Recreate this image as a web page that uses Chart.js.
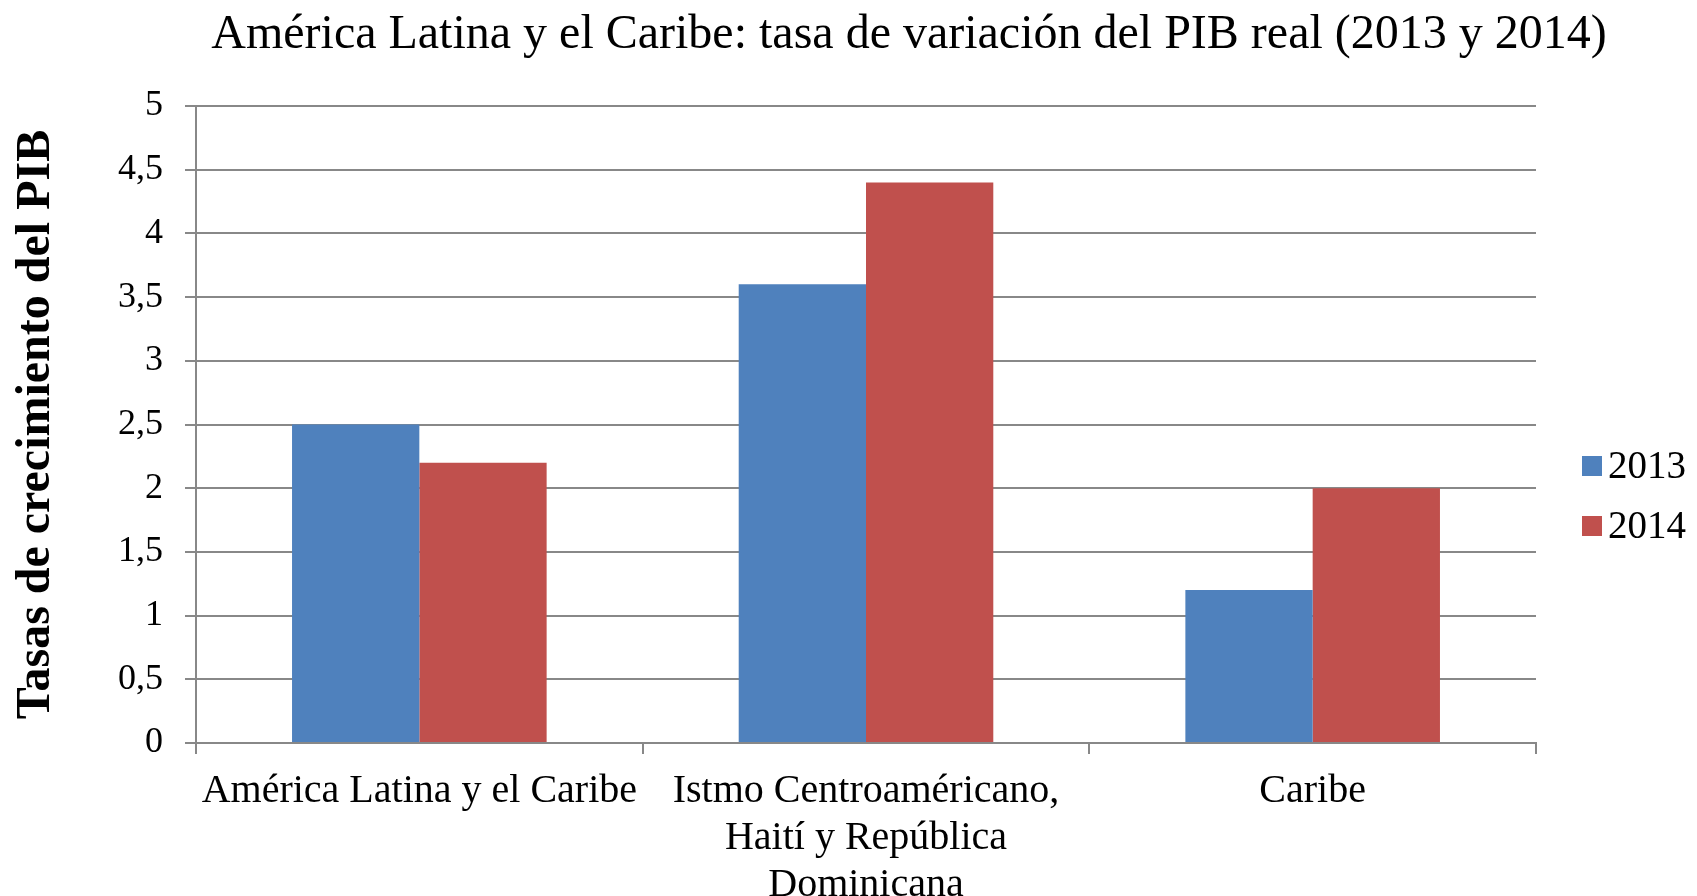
<!DOCTYPE html>
<html>
<head>
<meta charset="utf-8">
<script src="https://cdn.jsdelivr.net/npm/chart.js@4.4.0/dist/chart.umd.min.js"></script>
<style>
  html, body { margin: 0; padding: 0; background: #fff; }
  #wrap { width: 1697px; height: 896px; }
</style>
</head>
<body>
<div id="wrap"><canvas id="pib-chart" width="1697" height="896"></canvas></div>
<script>
// Data
const chartTitle = 'América Latina y el Caribe: tasa de variación del PIB real (2013 y 2014)';
const categories = [
  'América Latina y el Caribe',
  ['Istmo Centroaméricano,', 'Haití y República', 'Dominicana'],
  'Caribe'
];
const seriesNames = ['2013', '2014'];
const values2013 = [2.5, 3.6, 1.2];
const values2014 = [2.2, 4.4, 2.0];
const yTicks = [0, 0.5, 1, 1.5, 2, 2.5, 3, 3.5, 4, 4.5, 5];

const BLUE = '#4f81bd';
const RED = '#c0504d';
const GRID = '#888888';
const FONT = '"Liberation Serif", "Times New Roman", serif';

// Title and legend drawn outside the plot, placed like the original Excel chart
const decorations = {
  id: 'decorations',
  afterDraw(chart) {
    const ctx = chart.ctx;
    ctx.save();
    ctx.fillStyle = '#000';
    ctx.font = '48px ' + FONT;
    ctx.textAlign = 'center';
    ctx.textBaseline = 'alphabetic';
    ctx.fillText(chartTitle, 909, 48);

    const x = chart.chartArea.right + 46;
    const rows = [466, 526];
    ctx.font = '39px ' + FONT;
    ctx.textAlign = 'left';
    ctx.textBaseline = 'middle';
    chart.data.datasets.forEach((ds, i) => {
      const y = rows[i];
      ctx.fillStyle = ds.backgroundColor;
      ctx.fillRect(x, y - 10, 20, 20);
      ctx.fillStyle = '#000';
      ctx.fillText(ds.label, x + 26, y + 2);
    });
    ctx.restore();
  }
};

new Chart(document.getElementById('pib-chart'), {
  type: 'bar',
  data: {
    labels: categories,
    datasets: [
      { label: seriesNames[0], data: values2013, backgroundColor: BLUE },
      { label: seriesNames[1], data: values2014, backgroundColor: RED }
    ]
  },
  options: {
    responsive: false,
    animation: false,
    devicePixelRatio: 1,
    layout: { padding: { left: 0, right: 161, top: 106, bottom: 0 } },
    datasets: {
      bar: { categoryPercentage: 0.57, barPercentage: 1.0 }
    },
    plugins: {
      legend: { display: false },
      tooltip: { enabled: false },
      title: { display: false }
    },
    scales: {
      x: {
        afterFit(axis) { axis.height = 153; },
        grid: {
          offset: true,
          drawOnChartArea: false,
          drawTicks: true,
          tickLength: 11,
          color: GRID,
          lineWidth: 2
        },
        border: { color: GRID, width: 2 },
        ticks: {
          color: '#000',
          maxRotation: 0,
          autoSkip: false,
          padding: 14,
          font: { family: FONT, size: 40, lineHeight: 1.17 }
        }
      },
      y: {
        min: 0,
        max: 5,
        afterFit(axis) { axis.width = 196; },
        afterBuildTicks(axis) {
          axis.ticks = yTicks.map(v => ({ value: v }));
        },
        grid: {
          color: GRID,
          lineWidth: 2,
          drawTicks: true,
          tickLength: 11
        },
        border: { color: GRID, width: 2 },
        ticks: {
          color: '#000',
          padding: 22,
          font: { family: FONT, size: 36 },
          callback: v => String(v).replace('.', ',')
        },
        title: {
          display: true,
          text: 'Tasas de crecimiento del PIB',
          color: '#000',
          font: { family: FONT, size: 48, weight: 'bold' },
          padding: { top: 8, bottom: 0 }
        }
      }
    }
  },
  plugins: [decorations]
});
</script>
</body>
</html>
